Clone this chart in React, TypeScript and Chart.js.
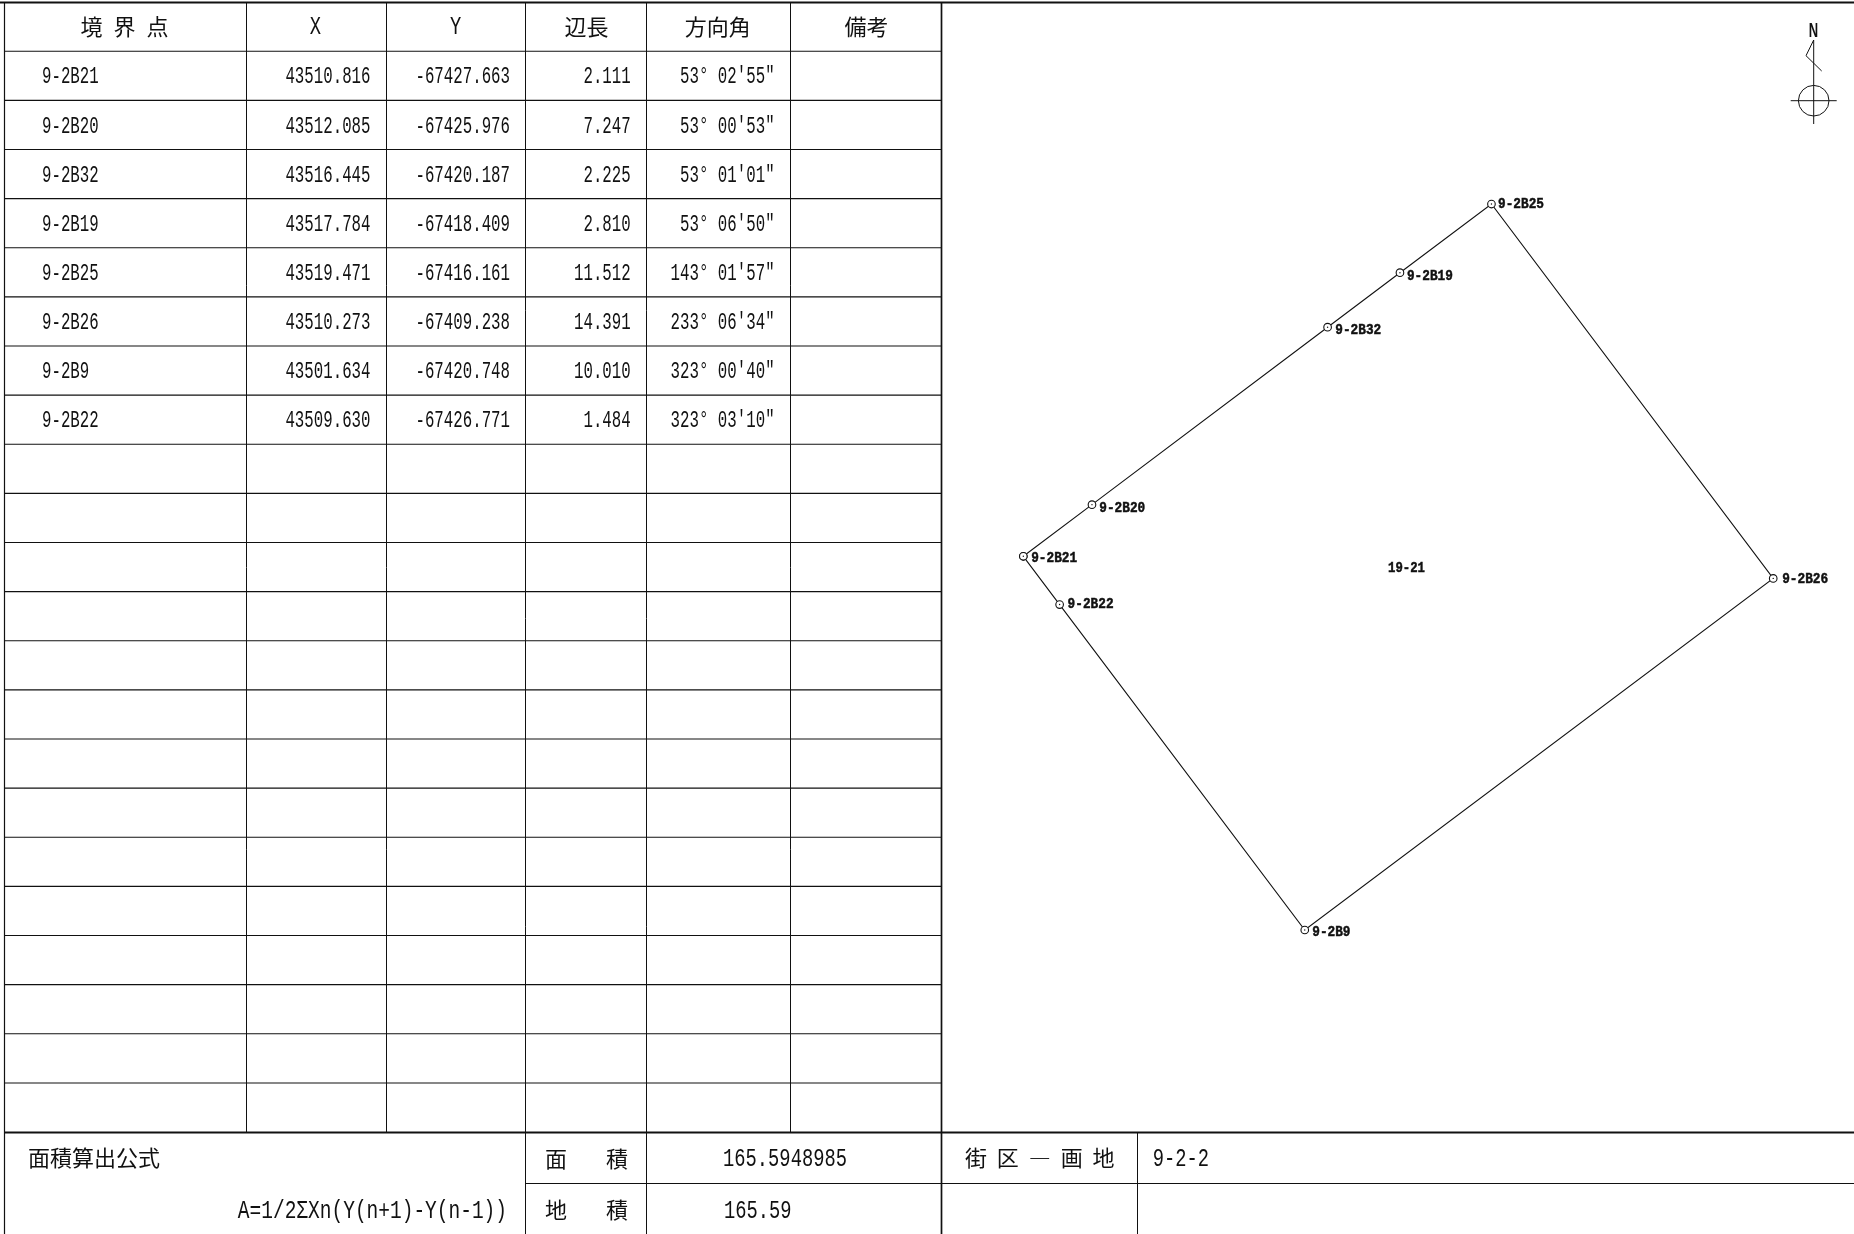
import React, { useEffect, useRef } from "react";
import { Chart, registerables } from "chart.js";

Chart.register(...registerables);

// ---- data read from the survey sheet ----
const pointNames = ["9-2B21", "9-2B20", "9-2B32", "9-2B19", "9-2B25", "9-2B26", "9-2B9", "9-2B22"];
const northings = [43510.816, 43512.085, 43516.445, 43517.784, 43519.471, 43510.273, 43501.634, 43509.63];
const eastings = [-67427.663, -67425.976, -67420.187, -67418.409, -67416.161, -67409.238, -67420.748, -67426.771];
const sideLengths = [2.111, 7.247, 2.225, 2.81, 11.512, 14.391, 10.01, 1.484];
const bearings = ["53° 02'55″", "53° 00'53″", "53° 01'01″", "53° 06'50″", "143° 01'57″", "233° 06'34″", "323° 00'40″", "323° 03'10″"];
const headers = ["境 界 点", "X", "Y", "辺長", "方向角", "備考"];
const parcelName = "19-21";
const parcelNorthing = 43510.515;
const parcelEasting = -67418.248;
const formulaTitle = "面積算出公式";
const formula = "A=1/2ΣXn(Y(n+1)-Y(n-1))";
const areaComputed = "165.5948985";
const areaRounded = "165.59";
const blockLabel = "街 区 ― 画 地";
const blockValue = "9-2-2";

// ---- layout (pixels), not data ----
const W = 1854;
const H = 1234;
const COLS = [4, 246, 386, 525, 646, 790, 941];
const HEAD_BOTTOM = 51.2;
const ROW_H = 49.13;
const ROWS = 22;
const TABLE_BOTTOM = 1132;
const LOWER_ROW = 1183;
const BLOCK_COL = 1137;
const INK = "#111111";
const MONO = '"Liberation Mono"';
const CJK = '"Noto Sans CJK JP"';
const labelNudge: Record<string, [number, number]> = {
  "9-2B21": [7.9, 2.4],
  "9-2B20": [7.3, 3.6],
  "9-2B32": [7.7, 3.2],
  "9-2B19": [7, 3.8],
  "9-2B25": [6.6, 0.5],
  "9-2B26": [9, 0.6],
  "9-2B9": [7.5, 2.7],
  "9-2B22": [8, -0.4],
};

type Opt = { font: string; sx?: number; align?: CanvasTextAlign; ls?: string; heavy?: number };
function put(ctx: CanvasRenderingContext2D, s: string, x: number, y: number, o: Opt) {
  ctx.save();
  ctx.translate(x, y);
  ctx.scale(o.sx ?? 1, 1);
  ctx.font = o.font;
  ctx.fillStyle = INK;
  ctx.strokeStyle = INK;
  ctx.textAlign = o.align ?? "left";
  ctx.textBaseline = "middle";
  (ctx as any).letterSpacing = o.ls ?? "0px";
  ctx.fillText(s, 0, 0);
  if (o.heavy) {
    ctx.lineWidth = o.heavy;
    ctx.strokeText(s, 0, 0);
  }
  ctx.restore();
}

function seg(ctx: CanvasRenderingContext2D, x1: number, y1: number, x2: number, y2: number, w = 1) {
  ctx.lineWidth = w;
  ctx.beginPath();
  ctx.moveTo(x1, y1);
  ctx.lineTo(x2, y2);
  ctx.stroke();
}

const sheetPlugin = {
  id: "sheet",
  afterDraw(chart: any) {
    const ctx: CanvasRenderingContext2D = chart.ctx;
    ctx.save();
    ctx.strokeStyle = INK;

    // table rules
    seg(ctx, 0, 2.5, W, 2.5, 2);
    for (let r = 0; r < ROWS; r++) {
      const y = HEAD_BOTTOM + ROW_H * r;
      seg(ctx, COLS[0], y, COLS[6], y, 1.1);
    }
    seg(ctx, COLS[0], TABLE_BOTTOM + 0.5, W, TABLE_BOTTOM + 0.5, 2);
    seg(ctx, COLS[3], LOWER_ROW + 0.5, W, LOWER_ROW + 0.5, 1.2);
    seg(ctx, COLS[0] + 0.5, 2, COLS[0] + 0.5, H, 1.2);
    [COLS[1], COLS[2], COLS[5]].forEach((x) => seg(ctx, x + 0.5, 3, x + 0.5, TABLE_BOTTOM, 1));
    seg(ctx, COLS[3] + 0.5, 3, COLS[3] + 0.5, H, 1);
    seg(ctx, COLS[4] + 0.5, 3, COLS[4] + 0.5, H, 1);
    seg(ctx, COLS[6] + 0.5, 2, COLS[6] + 0.5, H, 1.7);
    seg(ctx, BLOCK_COL + 0.5, TABLE_BOTTOM, BLOCK_COL + 0.5, H, 1);

    // header
    const headY = 27;
    const headX = [125, 315.4, 455.6, 586.6, 717.7, 866.5];
    headers.forEach((h, i) => {
      if (i === 0) put(ctx, h, headX[i] + 1, headY, { font: `22px ${CJK}`, align: "center", ls: "3px" });
      else if (i < 3) put(ctx, h, headX[i], headY, { font: `25px ${MONO}`, sx: 0.75, align: "center" });
      else put(ctx, h, headX[i], headY, { font: `22px ${CJK}`, align: "center" });
    });

    // rows
    const rowOpt = { font: `23px ${MONO}`, sx: 0.685 };
    pointNames.forEach((name, i) => {
      const y = HEAD_BOTTOM + ROW_H * i + ROW_H / 2 + 1.6;
      put(ctx, name, 42, y, rowOpt);
      put(ctx, northings[i].toFixed(3), 370.5, y, { ...rowOpt, align: "right" });
      put(ctx, eastings[i].toFixed(3), 510, y, { ...rowOpt, align: "right" });
      put(ctx, sideLengths[i].toFixed(3), 630.7, y, { ...rowOpt, align: "right" });
      put(ctx, bearings[i], 774.6, y, { ...rowOpt, align: "right" });
    });

    // lower band
    const big = { font: `25px ${MONO}`, sx: 0.75 };
    const kanji = { font: `22px ${CJK}` };
    put(ctx, formulaTitle, 28, 1158, kanji);
    put(ctx, formula, 507, 1211, { ...big, sx: 0.78, align: "right" });
    put(ctx, "面　　積", 545, 1158.5, { ...kanji, ls: "-1.67px" });
    put(ctx, "地　　積", 545, 1210, { ...kanji, ls: "-1.67px" });
    put(ctx, areaComputed, 785, 1159, { ...big, align: "center" });
    put(ctx, areaRounded, 724, 1211, big);
    put(ctx, blockLabel, 1041, 1158, { ...kanji, align: "center", ls: "2.5px" });
    put(ctx, blockValue, 1152.8, 1159, big);

    // point labels, anchored through the chart's own scales
    const sx = chart.scales.x;
    const sy = chart.scales.y;
    const small = { font: `bold 15px ${MONO}`, sx: 0.85, heavy: 0.5 };
    pointNames.forEach((name, i) => {
      const [dx, dy] = labelNudge[name];
      put(ctx, name, sx.getPixelForValue(eastings[i]) + dx, sy.getPixelForValue(northings[i]) + dy, small);
    });
    put(ctx, parcelName, sx.getPixelForValue(parcelEasting), sy.getPixelForValue(parcelNorthing), { ...small, sx: 0.82, align: "center" });

    // north mark
    put(ctx, "N", 1813.5, 31, { font: 'bold 20px "Liberation Sans"', sx: 0.65, align: "center" });
    ctx.lineWidth = 1;
    ctx.beginPath();
    ctx.moveTo(1813.7, 124);
    ctx.lineTo(1813.7, 40);
    ctx.lineTo(1806, 55.7);
    ctx.lineTo(1821.7, 71);
    ctx.stroke();
    seg(ctx, 1790.7, 100.7, 1836.7, 100.7, 1);
    ctx.beginPath();
    ctx.arc(1813.7, 100.7, 15.3, 0, Math.PI * 2);
    ctx.stroke();
    ctx.restore();
  },
};

export default function App() {
  const ref = useRef<HTMLCanvasElement>(null);
  useEffect(() => {
    const pts = pointNames.map((_, i) => ({ x: eastings[i], y: northings[i] }));
    const chart = new Chart(ref.current!, {
      type: "scatter",
      data: {
        datasets: [
          {
            label: "centre dots",
            data: pts,
            pointRadius: 0.7,
            pointBackgroundColor: INK,
            pointBorderWidth: 0,
            showLine: false,
            order: 0,
          },
          {
            label: "boundary",
            data: [...pts, pts[0]],
            showLine: true,
            tension: 0,
            borderColor: INK,
            borderWidth: 1.1,
            pointRadius: 3.8,
            pointBackgroundColor: "#ffffff",
            pointBorderColor: INK,
            pointBorderWidth: 1.1,
            order: 1,
          },
        ],
      },
      options: {
        animation: false,
        responsive: false,
        devicePixelRatio: 1,
        layout: { padding: 0, autoPadding: false },
        plugins: { legend: { display: false }, tooltip: { enabled: false }, title: { display: false } },
        scales: {
          x: { type: "linear", display: false, min: -67452.806, max: -67407.253 },
          y: { type: "linear", display: false, min: 43494.165, max: 43524.484 },
        },
      },
      plugins: [sheetPlugin],
    } as any);
    return () => chart.destroy();
  }, []);
  return (
    <canvas
      ref={ref}
      width={W}
      height={H}
      style={{ position: "fixed", left: 0, top: 0, width: W, height: H, display: "block", background: "#fff" }}
    />
  );
}
